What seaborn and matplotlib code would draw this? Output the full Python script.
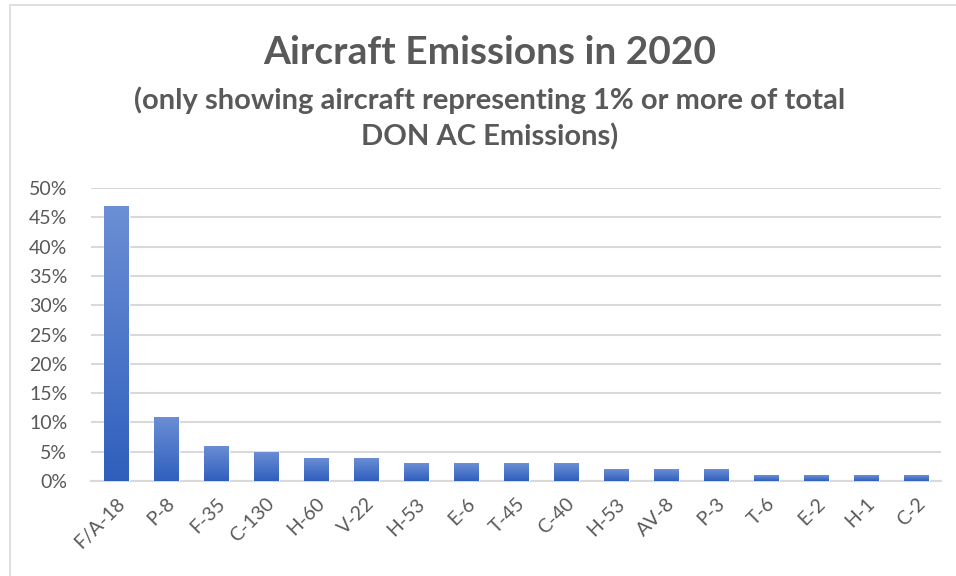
import numpy as np
import pandas as pd
import matplotlib
matplotlib.use("Agg")
import matplotlib.pyplot as plt
import seaborn as sns
from matplotlib.colors import LinearSegmentedColormap
from matplotlib.patches import Rectangle
from matplotlib.ticker import PercentFormatter

# datos
aviones = ["F/A-18", "P-8", "F-35", "C-130", "H-60", "V-22", "H-53", "E-6", "T-45",
           "C-40", "H-53", "AV-8", "P-3", "T-6", "E-2", "H-1", "C-2"]
emisiones = [0.47, 0.11, 0.06, 0.05, 0.04, 0.04, 0.03, 0.03, 0.03,
             0.03, 0.02, 0.02, 0.02, 0.01, 0.01, 0.01, 0.01]
ticks_y = [0, 0.05, 0.10, 0.15, 0.20, 0.25, 0.30, 0.35, 0.40, 0.45, 0.50]

df = pd.DataFrame({"pos": np.arange(len(aviones)), "avion": aviones, "emision": emisiones})

sns.set_style("white")
plt.rcParams["font.family"] = ["Lato", "DejaVu Sans"]
gris = "#595959"

fig = plt.figure(figsize=(9.56, 5.76), dpi=100)
ax = fig.add_axes([91 / 956, 95 / 576, 850 / 956, 293 / 576])

sns.barplot(data=df, x="pos", y="emision", color="#4472C4", width=0.5, ax=ax, zorder=3)

# degradado en cada barra
cmap = LinearSegmentedColormap.from_list("azul", ["#2f5fbd", "#6c8fd5"])
grad = np.linspace(0, 1, 256).reshape(-1, 1)
for p in ax.patches:
    x0, y0 = p.get_x(), p.get_y()
    w, h = p.get_width(), p.get_height()
    im = ax.imshow(grad, cmap=cmap, origin="lower", aspect="auto",
                   extent=(x0, x0 + w, y0, y0 + h), zorder=4)
    im.set_clip_path(p)

ax.set_xlim(-0.5, len(aviones) - 0.5)
ax.set_ylim(0, 0.5)
ax.set_yticks(ticks_y)
ax.yaxis.set_major_formatter(PercentFormatter(1.0, decimals=0))
ax.set_xticks(df["pos"])
ax.set_xticklabels(aviones, rotation=45, ha="right", rotation_mode="anchor")
ax.tick_params(axis="both", colors=gris, labelsize=14, length=0)
ax.tick_params(axis="x", pad=10)
ax.tick_params(axis="y", pad=17)
ax.set_xlabel("")
ax.set_ylabel("")
ax.grid(axis="y", color="#d9d9d9", linewidth=1.5, zorder=0)
for s in ["top", "right", "left"]:
    ax.spines[s].set_visible(False)
ax.spines["bottom"].set_color("#d9d9d9")
ax.spines["bottom"].set_linewidth(1.5)

fig.text(490 / 956, 1 - 52 / 576, "Aircraft Emissions in 2020", ha="center", va="center",
         fontsize=28, fontweight="bold", color=gris)
fig.text(490 / 956, 1 - 100 / 576, "(only showing aircraft representing 1% or more of total",
         ha="center", va="center", fontsize=21, fontweight="bold", color=gris)
fig.text(490 / 956, 1 - 137 / 576, "DON AC Emissions)",
         ha="center", va="center", fontsize=21, fontweight="bold", color=gris)

# borde del area del grafico
fig.patches.append(Rectangle((10 / 956, -0.1), 1.2, 1.1 - 5 / 576, transform=fig.transFigure,
                             fill=False, edgecolor="#d9d9d9", linewidth=1.2))

fig.savefig("out.png", dpi=100)
